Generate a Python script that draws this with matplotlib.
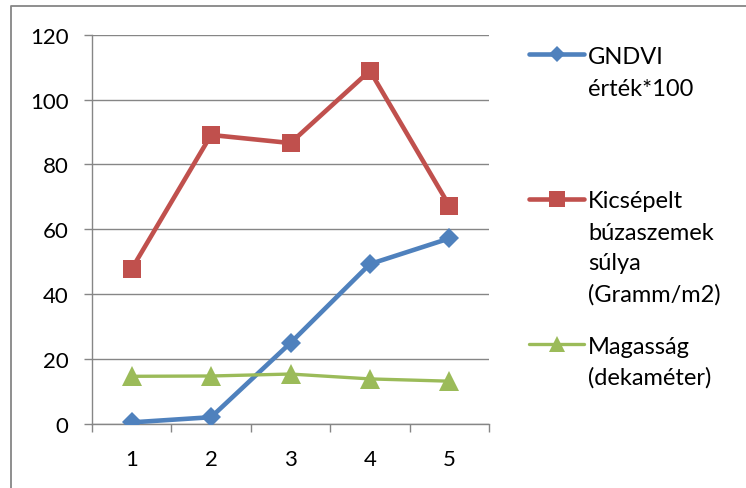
import matplotlib.pyplot as plt
from matplotlib.lines import Line2D

plt.rcParams['font.family'] = ['Lato', 'DejaVu Sans']

# mérési pontok
parcella = [1, 2, 3, 4, 5]
gndvi = [0.5, 2.1, 25.0, 49.3, 57.2]
buza_suly = [47.8, 89.1, 86.6, 108.9, 67.3]
magassag = [14.7, 14.8, 15.4, 13.9, 13.2]
y_ticks = [0, 20, 40, 60, 80, 100, 120]

labels = ["GNDVI\nérték*100",
          "Kicsépelt\nbúzaszemek\nsúlya\n(Gramm/m2)",
          "Magasság\n(dekaméter)"]
colors = ["#4F81BD", "#C0504D", "#9BBB59"]
markers = ["D", "s", "^"]
sizes = [9.7, 13.5, 14]
widths = [3.3, 3.3, 2.4]

W, H = 746, 489
fig = plt.figure(figsize=(W / 100, H / 100), dpi=100)
ax = fig.add_axes([92 / W, 1 - 425 / H, (489 - 92) / W, (425 - 35.7) / H])

for vals, c, m, s, lw in zip([gndvi, buza_suly, magassag], colors, markers, sizes, widths):
    ax.plot(parcella, vals, color=c, marker=m, markersize=s, linewidth=lw,
            markeredgewidth=0, solid_joinstyle='miter', zorder=3)

ax.set_xlim(0.5, 5.5)
ax.set_ylim(0, 120)
ax.set_yticks(y_ticks)
ax.set_xticks(parcella)
ax.set_xticks([0.5, 1.5, 2.5, 3.5, 4.5, 5.5], minor=True)
ax.grid(axis='y', color='#868686', linewidth=1.0, zorder=1)
ax.set_axisbelow(True)
for side in ['top', 'right']:
    ax.spines[side].set_visible(False)
for side in ['left', 'bottom']:
    ax.spines[side].set_color('#868686')
    ax.spines[side].set_linewidth(1.0)
ax.tick_params(axis='y', length=6, width=1.0, color='#868686', pad=11, labelsize=16)
ax.tick_params(axis='x', which='major', length=0, pad=18, labelsize=16)
ax.tick_params(axis='x', which='minor', length=6, width=1.0, color='#868686')

# jelmagyarázat
rows = [(55, [57, 90]), (200, [202, 233, 264, 295]), (345, [347, 378])]
for (hy, text_ys), lab, c, m, s, lw in zip(rows, labels, colors, markers, sizes, widths):
    fig.add_artist(Line2D([529 / W, 584 / W], [1 - hy / H] * 2, color=c, linewidth=lw,
                          solid_capstyle='round'))
    fig.add_artist(Line2D([557 / W], [1 - hy / H], color=c, marker=m,
                          markersize=s * 0.85, markeredgewidth=0))
    for line, ty in zip(lab.split("\n"), text_ys):
        fig.text(588 / W, 1 - ty / H, line, fontsize=17, va='center', ha='left')

# keret
fig.add_artist(Line2D([10.5 / W, 10.5 / W, 1], [0, 1 - 6.5 / H, 1 - 6.5 / H],
                      color='#868686', linewidth=1.3))

fig.savefig("out.png", dpi=100)
